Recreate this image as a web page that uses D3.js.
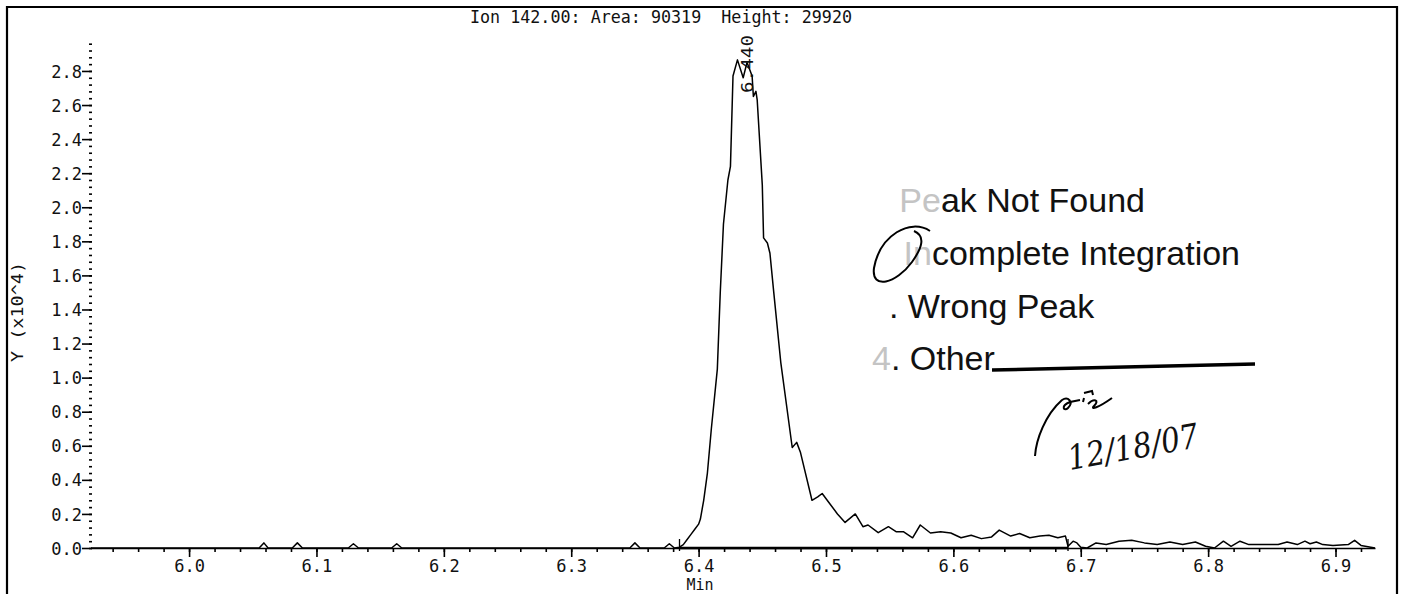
<!DOCTYPE html>
<html>
<head>
<meta charset="utf-8">
<script src="https://cdn.jsdelivr.net/npm/d3@7"></script>
<style>
html,body{margin:0;padding:0;background:#fff;}
svg{display:block;}
text{font-family:"DejaVu Sans Mono",monospace;fill:#111;}
</style>
</head>
<body>
<svg id="chart" width="1401" height="594"></svg>
<script>
// ---- data (Y in units of 10^4 counts, time in minutes) ----
const times = [5.923,6.055,6.0587,6.062,6.081,6.085,6.089,6.125,6.129,6.133,6.159,6.163,6.167,
  6.346,6.350,6.354,6.373,6.377,6.381,6.385,6.388,6.391,6.394,6.397,6.400,6.4014,6.404,6.4069,
  6.410,6.4147,6.417,6.4195,6.423,6.425,6.427,6.4305,6.435,6.438,6.442,6.443,6.445,6.446,
  6.450,6.451,6.454,6.456,6.459,6.4645,6.4735,6.477,6.480,6.489,6.4935,6.497,6.503,6.509,
  6.515,6.523,6.529,6.533,6.541,6.549,6.555,6.561,6.568,6.574,6.582,6.590,6.598,6.606,6.614,
  6.622,6.630,6.636,6.645,6.652,6.660,6.668,6.675,6.682,6.688,6.690,6.694,6.697,6.700,6.705,
  6.712,6.720,6.730,6.740,6.750,6.760,6.770,6.780,6.790,6.798,6.805,6.812,6.818,6.825,6.832,
  6.840,6.855,6.862,6.870,6.876,6.880,6.885,6.890,6.898,6.910,6.915,6.920,6.931];
const intensity = [0,0,0.03,0,0,0.03,0,0,0.025,0,0,0.025,0,
  0,0.03,0,0,0.025,0,0.005,0.02,0.05,0.08,0.11,0.14,0.17,0.28,0.44,
  0.70,1.05,1.50,1.90,2.16,2.24,2.77,2.865,2.76,2.85,2.77,2.65,2.68,2.63,
  2.13,1.82,1.79,1.73,1.50,1.09,0.59,0.62,0.56,0.28,0.30,0.32,0.26,0.20,
  0.15,0.20,0.125,0.135,0.09,0.125,0.096,0.095,0.06,0.135,0.088,0.095,0.088,0.06,0.075,
  0.055,0.065,0.105,0.07,0.085,0.06,0.07,0.075,0.06,0.07,0.01,0.04,0.03,0.005,0,
  0.03,0.02,0.04,0.045,0.03,0.02,0.035,0.02,0.035,0.01,0.0,0.04,0.01,0.04,0.02,
  0.02,0.02,0.035,0.02,0.04,0.025,0.035,0.02,0.015,0.02,0.045,0.015,0];
const xTicks = [6.0,6.1,6.2,6.3,6.4,6.5,6.6,6.7,6.8,6.9];
const xTickLabels = ["6.0","6.1","6.2","6.3","6.4","6.5","6.6","6.7","6.8","6.9"];
const yTicks = [0.0,0.2,0.4,0.6,0.8,1.0,1.2,1.4,1.6,1.8,2.0,2.2,2.4,2.6,2.8];
const yTickLabels = ["0.0","0.2","0.4","0.6","0.8","1.0","1.2","1.4","1.6","1.8","2.0","2.2","2.4","2.6","2.8"];
const xMinor = d3.range(0,50).map(i => +(5.94 + i*0.02).toFixed(2)).filter(v => v <= 6.93);
const yMinor = d3.range(0,75).map(i => +(i*0.04).toFixed(2)).filter(v => v <= 2.96);
const integStart = 6.385, integEnd = 6.690;
const peakRT = "6.440";
const titleText = "Ion 142.00: Area: 90319  Height: 29920";
const stampLines = [
  {faded:"Pe", main:"ak Not Found"},
  {faded:"In", main:"complete Integration"},
  {faded:"", main:". Wrong Peak"},
  {faded:"4", main:". Other"}
];

// ---- layout ----
const svg = d3.select("#chart");
svg.append("rect").attr("width",1401).attr("height",594).attr("fill","#fff");

const x = d3.scaleLinear().domain([5.923, 6.931]).range([91, 1375]);
const y = d3.scaleLinear().domain([0, 2.96]).range([548, 43.7]);

// frame
svg.append("path").attr("d","M7,594 L7,7 L1397,7 L1397,594")
  .attr("fill","none").attr("stroke","#000").attr("stroke-width",2.2);

// title
svg.append("text").attr("x",661).attr("y",23).attr("text-anchor","middle")
  .attr("font-size",17).attr("textLength",382).attr("lengthAdjust","spacingAndGlyphs")
  .style("white-space","pre").text(titleText);

// y axis (ticks only, no spine)
const yMinorAxis = svg.append("g").attr("transform","translate(92,0)")
  .call(d3.axisLeft(y).tickValues(yMinor).tickSize(3).tickFormat(""));
yMinorAxis.select(".domain").remove();
const yAxis = svg.append("g").attr("transform","translate(92,0)")
  .call(d3.axisLeft(y).tickValues(yTicks).tickSize(10).tickPadding(0)
    .tickFormat((d,i) => yTickLabels[i]));
yAxis.select(".domain").remove();
yAxis.selectAll("text").attr("font-size",17).attr("fill","#111")
  .style("font-family","'DejaVu Sans Mono',monospace").attr("dy","0.36em");

// x axis
const xMinorAxis = svg.append("g").attr("transform","translate(0,548)")
  .call(d3.axisBottom(x).tickValues(xMinor).tickSize(4).tickSizeOuter(0).tickFormat(""));
xMinorAxis.select(".domain").attr("stroke","#000").attr("stroke-width",1.6);
const xAxis = svg.append("g").attr("transform","translate(0,548)")
  .call(d3.axisBottom(x).tickValues(xTicks).tickSize(9).tickSizeOuter(0).tickPadding(3)
    .tickFormat((d,i) => xTickLabels[i]));
xAxis.select(".domain").remove();
svg.selectAll(".tick line").attr("stroke","#000").attr("stroke-width",1.6);
xAxis.selectAll("text").attr("font-size",17).attr("fill","#111")
  .style("font-family","'DejaVu Sans Mono',monospace");

// axis titles
svg.append("text").attr("x",700).attr("y",590).attr("text-anchor","middle")
  .attr("font-size",15).text("Min");
svg.append("text").attr("transform","translate(23,312) rotate(-90)")
  .attr("text-anchor","middle").attr("font-size",16).attr("textLength",100)
  .attr("lengthAdjust","spacingAndGlyphs").text("Y (x10^4)");

// integration baseline and markers
svg.append("line").attr("x1",x(integStart)).attr("x2",x(integEnd))
  .attr("y1",y(0)).attr("y2",y(0)).attr("stroke","#000").attr("stroke-width",2.6);
[integStart, integEnd].forEach(t => {
  svg.append("line").attr("x1",x(t)).attr("x2",x(t)).attr("y1",y(0)-9).attr("y2",y(0)+3)
    .attr("stroke","#000").attr("stroke-width",1.3);
});

// trace
const pts = times.map((t,i) => [t, intensity[i]]);
svg.append("path").datum(pts)
  .attr("d", d3.line().x(d => x(d[0])).y(d => y(d[1])))
  .attr("fill","none").attr("stroke","#000").attr("stroke-width",1.5)
  .attr("stroke-linejoin","round");

// peak retention time label
svg.append("text").attr("transform","translate(753,93) rotate(-90)")
  .attr("font-size",15).attr("textLength",58).attr("lengthAdjust","spacingAndGlyphs")
  .text(peakRT);

// stamp
const stamp = svg.append("g");
const stampY = [212, 265, 318, 370];
const stampX = [1145, 1240, 870, 872];
const anchors = ["end","end","start","start"];
stampLines.forEach((ln,i) => {
  const t = stamp.append("text").attr("x",stampX[i]).attr("y",stampY[i])
    .attr("text-anchor",anchors[i]).attr("font-size",34)
    .style("font-family","'Liberation Sans',Arial,sans-serif");
  if (i === 2) t.append("tspan").attr("fill","#fff").text("3");
  if (ln.faded) t.append("tspan").attr("fill","#c4c4c4").text(ln.faded);
  t.append("tspan").attr("fill","#111").text(ln.main);
});
// "Other" underline
svg.append("path").attr("d","M992,370 L1255,364").attr("stroke","#000")
  .attr("stroke-width",3.5).attr("fill","none");

// handwritten circle around "In"
svg.append("path")
  .attr("d","M930,231 C910,218 880,235 874,268 C871,290 896,284 912,262 C922,248 926,236 914,231")
  .attr("fill","none").attr("stroke","#000").attr("stroke-width",2);

// handwritten initials
svg.append("path")
  .attr("d","M1035,456 C1036,440 1045,415 1062,400 M1062,400 C1068,396 1074,402 1068,408 C1064,412 1060,406 1070,402 L1080,400 M1083,402 L1084,398 M1088,404 C1094,398 1100,400 1094,406 C1090,410 1098,408 1112,398 M1084,393 L1092,391 L1093,395")
  .attr("fill","none").attr("stroke","#000").attr("stroke-width",2);
// handwritten date
svg.append("text").attr("transform","translate(1070,470) rotate(-10)")
  .attr("font-size",34).style("font-family","'DejaVu Serif',serif").style("font-style","italic")
  .attr("fill","#111").attr("textLength",132).attr("lengthAdjust","spacingAndGlyphs")
  .text("12/18/07");
</script>
</body>
</html>
